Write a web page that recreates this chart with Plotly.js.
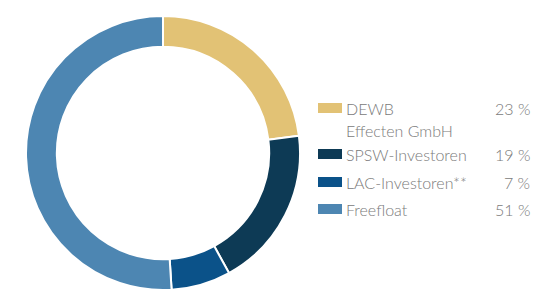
<!DOCTYPE html>
<html><head><meta charset="utf-8">
<script src="https://cdn.plot.ly/plotly-3.0.1.min.js"></script>
<style>html,body{margin:0;padding:0;background:#fff;}#chart{width:545px;height:308px;}</style>
</head><body><div id="chart"></div>
<script>
const labels = ["DEWB<br>Effecten GmbH", "SPSW-Investoren", "LAC-Investoren**", "Freefloat"];
const values = [23, 19, 7, 51];
const pctLabels = ["23 %", "19 %", "7 %", "51 %"];
const colors = ["#E2C275", "#0D3A55", "#0B5289", "#4D86B2"];

const W = 545, H = 308;
const font = {family: "Lato, 'Open Sans', sans-serif", size: 16, color: "#7a7a7a", weight: 300};
const rowY = [108, 154, 182, 209];   // row centre (px from top)
const lineGap = 22;
const textX = 344, boxX0 = 318, boxX1 = 342, pctX = 532;

const annotations = [], shapes = [];
labels.forEach((lab, i) => {
  const lines = lab.split("<br>");
  lines.forEach((ln, j) => {
    annotations.push({xref: "paper", yref: "paper", x: textX / W, y: 1 - (rowY[i] + j * lineGap) / H,
      xanchor: "left", yanchor: "middle", text: ln, showarrow: false, font: font});
  });
  annotations.push({xref: "paper", yref: "paper", x: pctX / W, y: 1 - rowY[i] / H,
    xanchor: "right", yanchor: "middle", text: pctLabels[i], showarrow: false, font: font});
  shapes.push({type: "rect", xref: "paper", yref: "paper", x0: boxX0 / W, x1: boxX1 / W,
    y0: 1 - (rowY[i] - 5) / H, y1: 1 - (rowY[i] + 5) / H, fillcolor: colors[i], line: {width: 0}});
});

const trace = {
  type: "pie", labels: labels, values: values, sort: false, direction: "clockwise", rotation: 0,
  hole: 0.775, textinfo: "none", hoverinfo: "none",
  marker: {colors: colors, line: {color: "#ffffff", width: 2}},
  domain: {x: [26 / W, 300 / W], y: [1 - 290 / H, 1 - 16 / H]},
  showlegend: false
};

Plotly.newPlot("chart", [trace], {
  width: W, height: H, margin: {l: 0, r: 0, t: 0, b: 0},
  paper_bgcolor: "#fff", plot_bgcolor: "#fff",
  annotations: annotations, shapes: shapes, showlegend: false
}, {displayModeBar: false, staticPlot: true});
</script></body></html>
